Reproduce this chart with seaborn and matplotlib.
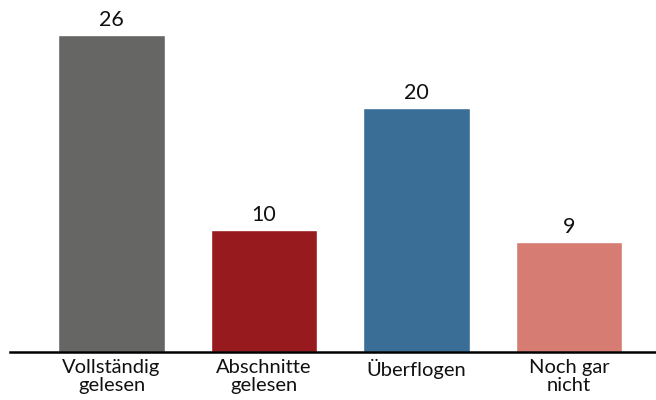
import pandas as pd
from matplotlib import pyplot as plt
import seaborn as sns

categories = ["Vollständig\ngelesen", "Abschnitte\ngelesen", "Überflogen", "Noch gar\nnicht"]
values = [26, 10, 20, 9]
colors = ["#666664", "#971a1f", "#3a6e96", "#d77c73"]

df = pd.DataFrame({"cat": categories, "val": values})

sns.set_style("white")
plt.rcParams["font.family"] = ["Lato", "DejaVu Sans"]

fig = plt.figure(figsize=(6.56, 4.0), dpi=100)
ax = fig.add_axes([10/656, 48/400, 646/656, 352/400])

sns.barplot(data=df, x="cat", y="val", hue="cat", palette=colors,
            width=0.70, legend=False, saturation=1, ax=ax)

for i, v in enumerate(values):
    ax.text(i, v + 0.4, str(v), ha="center", va="bottom", fontsize=15.5, color="#111111")

ax.set_xlim(-0.666, 3.57)
ax.set_ylim(0, 28.87)
ax.set_xlabel("")
ax.set_ylabel("")
ax.set_yticks([])
ax.tick_params(axis="x", length=0, pad=5, labelsize=14.5, colors="#111111")
for s in ["top", "right", "left"]:
    ax.spines[s].set_visible(False)
ax.spines["bottom"].set_color("black")
ax.spines["bottom"].set_linewidth(1.8)
for lbl in ax.get_xticklabels():
    lbl.set_linespacing(1.05)

fig.savefig("out.png", dpi=100, facecolor="white")
